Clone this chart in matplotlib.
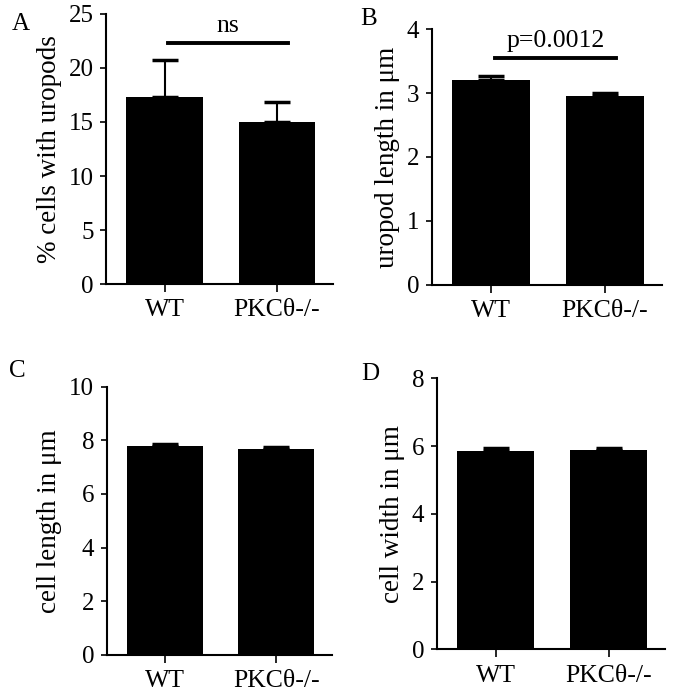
import matplotlib

matplotlib.use("Agg")
import matplotlib.pyplot as plt

plt.rcParams["font.family"] = ["Liberation Serif", "DejaVu Serif"]

groups = ["WT", "PKCθ-/-"]

# (A) % cells with uropods
pct_mean = [17.3, 15.0]
pct_err = [3.4, 1.85]
# (B) uropod length
uro_mean = [3.2, 2.95]
uro_err = [0.06, 0.05]
# (C) cell length
len_mean = [7.8, 7.69]
len_err = [0.08, 0.07]
# (D) cell width
wid_mean = [5.87, 5.88]
wid_err = [0.06, 0.06]

panels = [
    dict(letter="A", mean=pct_mean, err=pct_err, ylabel="% cells with uropods",
         ylim=25, yticks=[0, 5, 10, 15, 20, 25], sig="ns", sig_y=22.3,
         rect=[0.157, 0.590, 0.336, 0.390], lpos=(0.018, 0.981)),
    dict(letter="B", mean=uro_mean, err=uro_err, ylabel="uropod length in μm",
         ylim=4, yticks=[0, 1, 2, 3, 4], sig="p=0.0012", sig_y=3.55,
         rect=[0.639, 0.589, 0.340, 0.369], lpos=(0.533, 0.988)),
    dict(letter="C", mean=len_mean, err=len_err, ylabel="cell length in μm",
         ylim=10, yticks=[0, 2, 4, 6, 8, 10], sig=None, sig_y=None,
         rect=[0.158, 0.055, 0.333, 0.387], lpos=(0.014, 0.481)),
    dict(letter="D", mean=wid_mean, err=wid_err, ylabel="cell width in μm",
         ylim=8, yticks=[0, 2, 4, 6, 8], sig=None, sig_y=None,
         rect=[0.646, 0.063, 0.338, 0.391], lpos=(0.535, 0.476)),
]

fig = plt.figure(figsize=(6.76, 6.93), dpi=100)

for p in panels:
    ax = fig.add_axes(p["rect"])
    x = [0, 1]
    ax.bar(x, p["mean"], width=0.68, color="black", zorder=2)
    ax.errorbar(x, p["mean"], yerr=[[0, 0], p["err"]], fmt="none", ecolor="black",
                elinewidth=1.5, capsize=9.5, capthick=2.5, zorder=1)
    ax.set_xlim(-0.52, 1.5)
    ax.set_ylim(0, p["ylim"])
    ax.set_yticks(p["yticks"])
    ax.set_xticks(x)
    ax.set_xticklabels(groups)
    ax.set_ylabel(p["ylabel"], fontsize=19.5, labelpad=5)
    for s in ["top", "right"]:
        ax.spines[s].set_visible(False)
    for s in ["left", "bottom"]:
        ax.spines[s].set_linewidth(1.5)
        ax.spines[s].set_zorder(3)
    ax.spines["left"].set_bounds(0, p["ylim"])
    ax.tick_params(axis="y", length=4, width=1.2, labelsize=18, pad=5)
    ax.tick_params(axis="x", length=6, width=1.2, labelsize=18.5, pad=5)
    if p["sig"]:
        ax.plot([0.03, 1.1], [p["sig_y"], p["sig_y"]], color="black", lw=2.8,
                clip_on=False)
        ax.annotate(p["sig"], xy=(0.565, p["sig_y"]), xytext=(0, 4),
                    textcoords="offset points", ha="center", va="bottom",
                    fontsize=18.5, annotation_clip=False)
    fig.text(p["lpos"][0], p["lpos"][1], p["letter"], fontsize=18,
             ha="left", va="top")

fig.savefig("out.png", dpi=100)
